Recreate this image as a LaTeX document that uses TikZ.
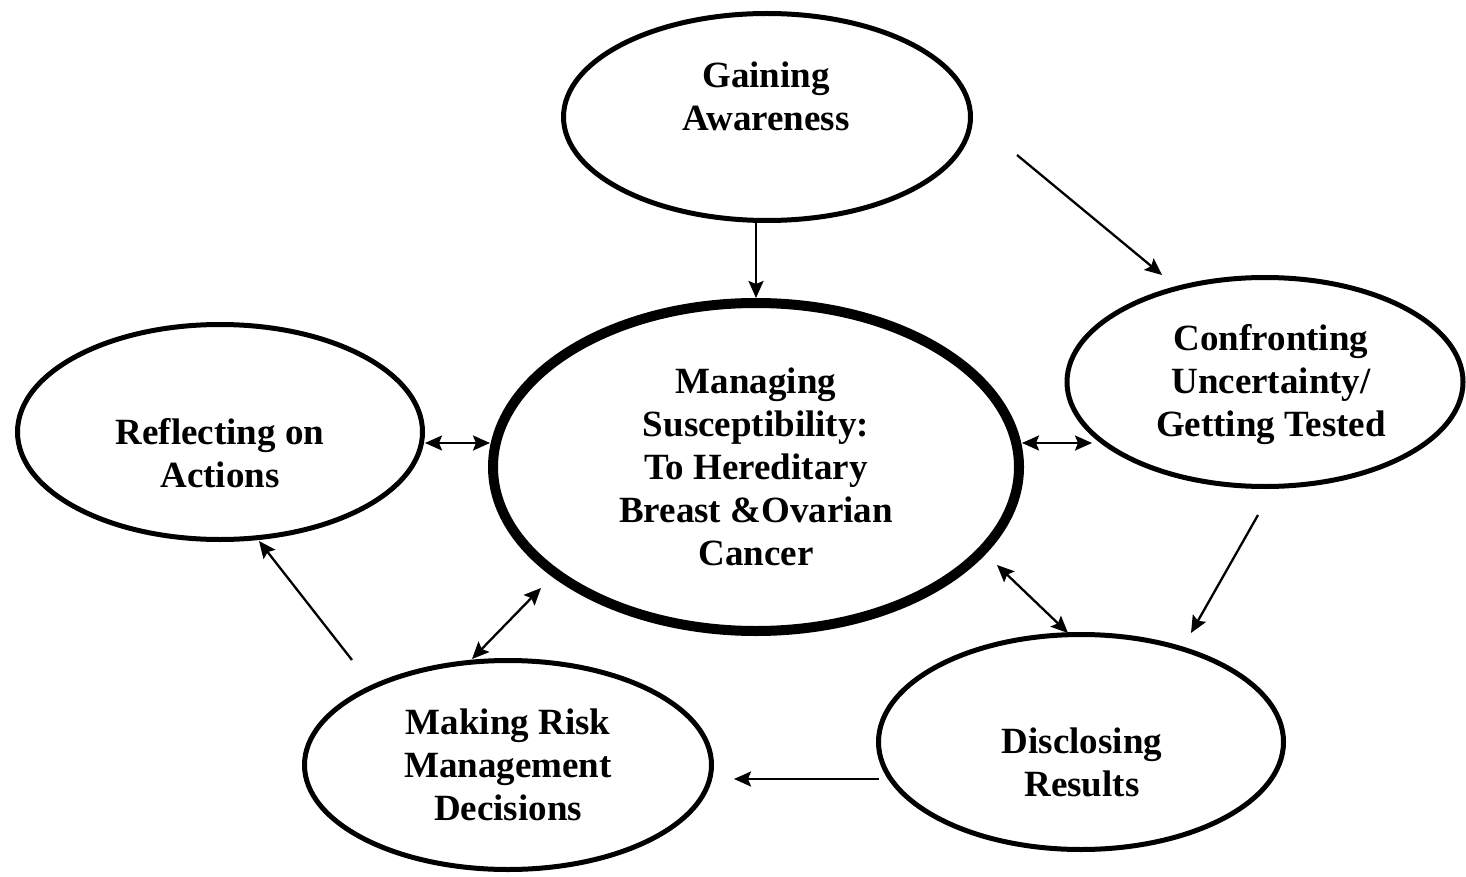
\documentclass[tikz,border=0pt]{standalone}
\usepackage{fontspec}
\setmainfont{Liberation Serif}
\usetikzlibrary{shapes.geometric,arrows.meta}
\tikzset{
  oval/.style={ellipse, draw=black, line width=5pt, inner sep=0pt},
  bigoval/.style={ellipse, draw=black, line width=10pt, inner sep=0pt},
  lbl/.style={align=center, inner sep=0pt, anchor=base, font=\fontsize{37}{43}\selectfont\bfseries},
  arr/.style={line width=2.3pt, -{Stealth[length=17pt,width=15pt,inset=3pt]}},
  darr/.style={line width=2.3pt, {Stealth[length=17pt,width=15pt,inset=3pt]}-{Stealth[length=17pt,width=15pt,inset=3pt]}}
}
\begin{document}
\begin{tikzpicture}[x=1pt,y=-1pt]
\useasboundingbox (0,0) rectangle (1466,877);
% ellipses
\node[oval, minimum width=407pt, minimum height=207pt] (g) at (767,117) {};
\node[bigoval, minimum width=526pt, minimum height=328pt] (m) at (756,467) {};
\node[oval, minimum width=396pt, minimum height=209pt] (c) at (1265,382) {};
\node[oval, minimum width=405pt, minimum height=215pt] (r) at (220,432) {};
\node[oval, minimum width=407pt, minimum height=209pt] (k) at (508,765) {};
\node[oval, minimum width=405pt, minimum height=215pt] (d) at (1081,742) {};
% texts (anchored at the baseline of the last line)
\node[lbl] (gt) at (766,131) {Gaining\\Awareness};
\node[lbl] (mt) at (756,565) {Managing\\Susceptibility:\\To Hereditary\\Breast \&Ovarian\\Cancer};
\node[lbl] (ct) at (1271,436) {Confronting\\Uncertainty/\\Getting Tested};
\node[lbl] (rt) at (220,487) {Reflecting on\\Actions};
\node[lbl] (kt) at (508,820) {Making Risk\\Management\\Decisions};
\node[lbl] (dt) at (1082,796) {Disclosing\\Results};
% arrow end points
\coordinate (gc1) at (1017,155);
\coordinate (gc2) at (1162,275);
\coordinate (cd1) at (1258,515);
\coordinate (cd2) at (1191,633);
\coordinate (dk1) at (879,779);
\coordinate (dk2) at (734,779);
\coordinate (kr1) at (352,660);
\coordinate (kr2) at (259,541);
\coordinate (rm1) at (425,443);
\coordinate (rm2) at (490,443);
\coordinate (mc1) at (1022,443);
\coordinate (mc2) at (1092,443);
\coordinate (md1) at (997,565);
\coordinate (md2) at (1068,633);
\coordinate (mk1) at (541,588);
\coordinate (mk2) at (472,659);
% connectors
\draw[arr] (g.south -| m.north) -- (m.north);
\draw[arr] (gc1) -- (gc2);
\draw[arr] (cd1) -- (cd2);
\draw[arr] (dk1) -- (dk2);
\draw[arr] (kr1) -- (kr2);
\draw[darr] (rm1) -- (rm2);
\draw[darr] (mc1) -- (mc2);
\draw[darr] (md1) -- (md2);
\draw[darr] (mk1) -- (mk2);
\end{tikzpicture}
\end{document}
